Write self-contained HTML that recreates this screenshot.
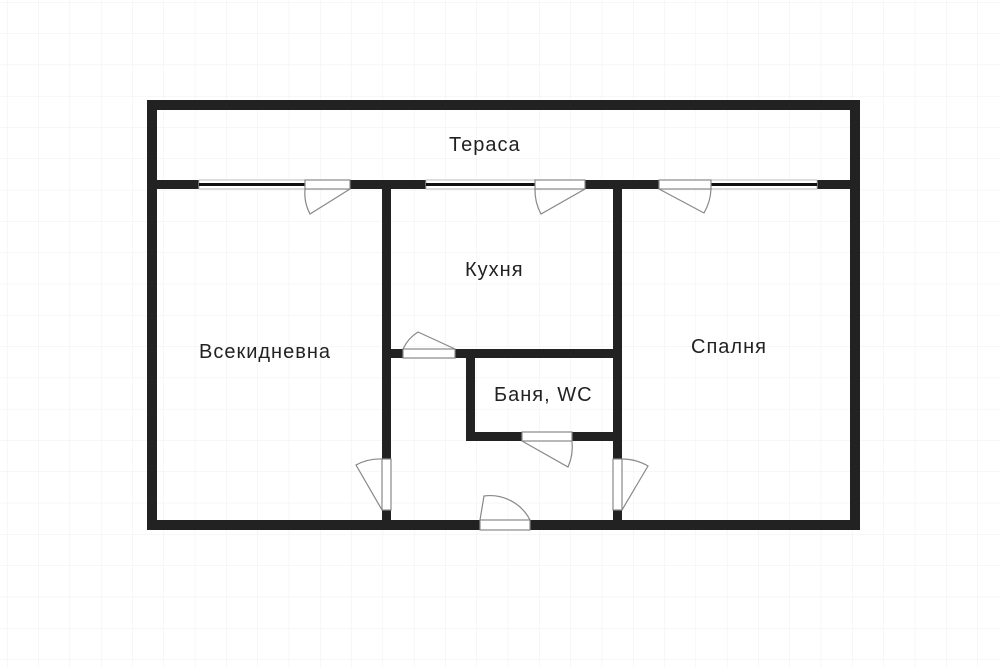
<!DOCTYPE html>
<html><head><meta charset="utf-8"><style>
html,body{margin:0;padding:0;background:#fff;}
svg{display:block}
text{font-family:"Liberation Sans","DejaVu Sans",sans-serif;fill:#222;font-size:20px;letter-spacing:1px}
</style></head><body>
<svg width="1000" height="667" viewBox="0 0 1000 667" xmlns="http://www.w3.org/2000/svg">
<defs>
<pattern id="g" x="7" y="2" width="31.3" height="31.3" patternUnits="userSpaceOnUse">
<path d="M0 0V31.3M0 0H31.3" stroke="#efefef" stroke-width="1" fill="none"/>
</pattern>
</defs>
<rect width="1000" height="667" fill="url(#g)"/>
<g fill="#222">
<rect x="147" y="100" width="713" height="10"/>
<rect x="147" y="100" width="10" height="430"/>
<rect x="850" y="100" width="10" height="430"/>
<rect x="147" y="520" width="713" height="10"/>
<rect x="147" y="180" width="52" height="9"/>
<rect x="350" y="180" width="76" height="9"/>
<rect x="585" y="180" width="74" height="9"/>
<rect x="817" y="180" width="43" height="9"/>
<rect x="382" y="180" width="9" height="279"/>
<rect x="382" y="510" width="9" height="20"/>
<rect x="613" y="180" width="9" height="279"/>
<rect x="613" y="510" width="9" height="20"/>
<rect x="382" y="349" width="21" height="9"/>
<rect x="455" y="349" width="167" height="9"/>
<rect x="466" y="349" width="9" height="92"/>
<rect x="466" y="432" width="56" height="9"/>
<rect x="572" y="432" width="50" height="9"/>
</g>
<g>
<rect x="199" y="180" width="106" height="9" fill="#fff" stroke="#bbb"/>
<rect x="199" y="183" width="106" height="3" fill="#111"/>
<rect x="426" y="180" width="109" height="9" fill="#fff" stroke="#bbb"/>
<rect x="426" y="183" width="109" height="3" fill="#111"/>
<rect x="711" y="180" width="106" height="9" fill="#fff" stroke="#bbb"/>
<rect x="711" y="183" width="106" height="3" fill="#111"/>
</g>
<g fill="#fff" stroke="#888" stroke-width="1.2">
<rect x="305" y="180" width="45" height="9"/>
<rect x="535" y="180" width="50" height="9"/>
<rect x="659" y="180" width="52" height="9"/>
<rect x="403" y="349" width="52" height="9"/>
<rect x="522" y="432" width="50" height="9"/>
<rect x="382" y="459" width="9" height="51"/>
<rect x="613" y="459" width="9" height="51"/>
<rect x="480" y="520" width="50" height="10"/>
</g>
<g fill="none" stroke="#888" stroke-width="1.2">
<path d="M350 189 L310 214 A45 45 0 0 1 305 189"/>
<path d="M585 189 L541 214 A50 50 0 0 1 535 189"/>
<path d="M659 189 L704 213 A52 52 0 0 0 711 189"/>
<path d="M455 349 L418 332 A40 40 0 0 0 403 349"/>
<path d="M522 441 L568 467 A50 50 0 0 0 572 441"/>
<path d="M382 510 L356 465 A51 51 0 0 1 382 459"/>
<path d="M622 510 L648 466 A51 51 0 0 0 622 459"/>
<path d="M480 520 L484 496 A45 45 0 0 1 530 520"/>
</g>
<text x="449" y="151">Тераса</text>
<text x="465" y="276">Кухня</text>
<text x="199" y="358">Всекидневна</text>
<text x="691" y="353">Спалня</text>
<text x="494" y="401">Баня, WC</text>
</svg>
</body></html>
